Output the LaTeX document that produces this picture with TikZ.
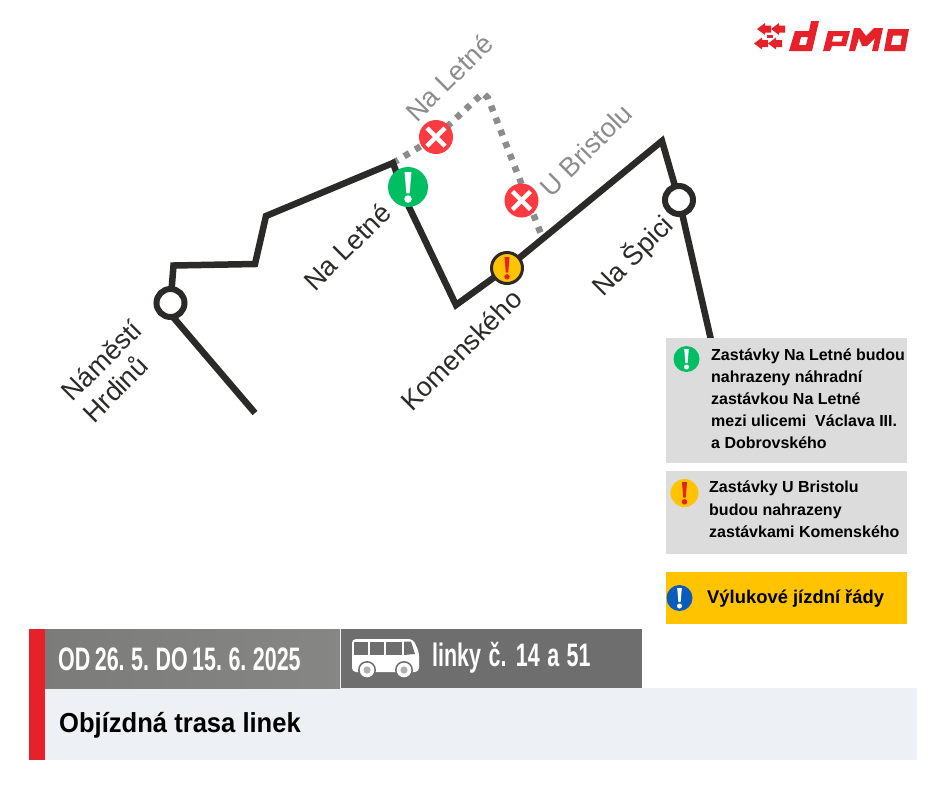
\documentclass[tikz,border=0pt]{standalone}
\usepackage{fontspec}
\setmainfont{Liberation Sans}
\newfontfamily\condfont[FakeStretch=0.66]{Liberation Sans}
\newfontfamily\titlefont[FakeStretch=0.93]{Liberation Sans}
\usetikzlibrary{positioning,calc}
\definecolor{routeblack}{HTML}{2B2A29}
\definecolor{closedred}{HTML}{FB3A42}
\definecolor{okgreen}{HTML}{00BF63}
\definecolor{warnyellow}{HTML}{FFC300}
\definecolor{infoblue}{HTML}{0A5CBC}
\definecolor{brandred}{HTML}{E62129}
\definecolor{boxgrey}{HTML}{DCDCDC}
\definecolor{bargrey}{HTML}{868684}
\definecolor{bardark}{HTML}{6E6E6E}
\definecolor{footgrey}{HTML}{EDF0F4}
\definecolor{labelgrey}{HTML}{8C8C8C}
\tikzset{
  route/.style={line width=6.5pt, routeblack},
  detour/.style={line width=6.5pt, labelgrey, dash pattern=on 6pt off 7pt},
  stoplabel/.style={font=\fontsize{27}{30}\selectfont, routeblack, rotate=45, align=left},
  oldlabel/.style={font=\fontsize{27}{27}\selectfont, labelgrey, rotate=45},
  plainstop/.style={circle, draw=routeblack, line width=6pt, fill=white, minimum size=28pt, inner sep=0pt},
  closedstop/.style={circle, fill=closedred, minimum size=34pt, inner sep=0pt},
  newstop/.style={circle, fill=okgreen, minimum size=40pt, inner sep=0pt},
  warnstop/.style={circle, draw=routeblack, line width=3pt, fill=warnyellow, minimum size=31pt, inner sep=0pt},
  keydot/.style={circle, minimum size=#1, inner sep=0pt},
  keytext/.style={anchor=north west, align=left, inner sep=0pt, font=\fontsize{16}{22.1}\selectfont\bfseries},
  headtext/.style={anchor=west, inner sep=0pt, white, font=\condfont\fontsize{32.5}{32.5}\selectfont\bfseries},
}
% exclamation mark at a node: colour, half height
\newcommand{\bang}[3]{
  \fill[#2] ($(#1)+(-0.23*#3,-#3)$) -- ($(#1)+(0.23*#3,-#3)$) -- ($(#1)+(0.11*#3,0.42*#3)$) -- ($(#1)+(-0.11*#3,0.42*#3)$) -- cycle;
  \fill[#2] ($(#1)+(0,0.8*#3)$) circle[radius=0.25*#3];
}
\newcommand{\cross}[1]{
  \draw[white, line width=4.5pt] ($(#1)+(-9,-9)$) -- ($(#1)+(9,9)$);
  \draw[white, line width=4.5pt] ($(#1)+(-9,9)$) -- ($(#1)+(9,-9)$);
}
\begin{document}
\begin{tikzpicture}[x=1pt, y=-1pt]
  \useasboundingbox[fill=white] (0,0) rectangle (940,788);

  % detour over the closed stops
  \coordinate (turnA) at (393,163);
  \coordinate (turnB) at (483,93);
  \coordinate (turnC) at (488,98);
  \coordinate (detourEnd) at (541,234);
  \coordinate (closedA) at (436,137);
  \coordinate (closedB) at (521.5,200.5);
  \draw[detour] (turnA) -- (closedA) -- (turnB) -- (turnC) -- (detourEnd);

  % route
  \coordinate (routeStart) at (255,413);
  \coordinate (bendH) at (173,317);
  \coordinate (bendA) at (173.5,265.5);
  \coordinate (bendB) at (255,264);
  \coordinate (bendC) at (266,216);
  \coordinate (bendF) at (409,207);
  \coordinate (bendD) at (456,305);
  \coordinate (bendE) at (662,141);
  \coordinate (routeEnd) at (711,340);
  \coordinate (stopA) at (170.5,303);
  \coordinate (stopB) at (408,187);
  \coordinate (stopC) at (507,268);
  \coordinate (stopD) at (679,200);
  \draw[route, line join=miter] (routeStart) -- (bendH) -- (stopA) -- (bendA) -- (bendB) -- (bendC) -- (turnA) -- (bendF) -- (bendD) -- (stopC) -- (bendE) -- (stopD) -- (routeEnd);

  \node[plainstop] (hrdinu) at (stopA) {};
  \node[plainstop] (spici) at (stopD) {};
  \node[newstop] (letne) at (stopB) {};
  \node[warnstop] (komensky) at (stopC) {};
  \node[closedstop] (oldletne) at (closedA) {};
  \node[closedstop] (bristol) at (closedB) {};
  \bang{letne}{white}{15}
  \bang{komensky}{brandred}{11}
  \cross{oldletne}
  \cross{bristol}

  \node[stoplabel] (hrdinutext) at (112,371) {Náměstí\\Hrdinů};
  \node[stoplabel] (letnetext) at (347,247) {Na Letné};
  \node[stoplabel] (komenskytext) at (461,350) {Komenského};
  \node[stoplabel] (spicitext) at (633,256) {Na Špici};
  \node[oldlabel] (oldletnetext) at (449,78) {Na Letné};
  \node[oldlabel] (bristoltext) at (586,150) {U Bristolu};

  % legend
  \fill[boxgrey] (666,338) rectangle (907,463);
  \fill[boxgrey] (666,471) rectangle (907,554);
  \fill[warnyellow] (666,572) rectangle (907,624);
  \node[keydot=26pt, fill=okgreen] (keygreen) at (686.5,359) {};
  \node[keydot=28pt, fill=warnyellow] (keyyellow) at (684.5,493) {};
  \node[keydot=26pt, fill=infoblue] (keyblue) at (679.5,598) {};
  \bang{keygreen}{white}{10}
  \bang{keyyellow}{brandred}{11}
  \bang{keyblue}{white}{10}
  \node[keytext] (keygreentext) at (711,348.5) {Zastávky Na Letné budou\\nahrazeny náhradní\\zastávkou Na Letné\\mezi ulicemi\ \ Václava III.\\a Dobrovského};
  \node[keytext] (keyyellowtext) at (709,481) {Zastávky U Bristolu\\budou nahrazeny\\zastávkami Komenského};
  \node[anchor=west, inner sep=0pt, font=\fontsize{18.4}{18.4}\selectfont\bfseries] (keybluetext) at (707,598.5) {Výlukové jízdní řády};

  % footer
  \fill[footgrey] (45,688) rectangle (917,760);
  \fill[left color=bargrey!92!black, right color=bargrey] (45,629) rectangle (340,688);
  \fill[bardark] (341,629) rectangle (642,688);
  \fill[brandred] (29,629) rectangle (45,760);
  \node[headtext] (datetext) at (58,659) {\spaceskip=4.5pt OD 26. 5. DO 15. 6. 2025};
  \node[headtext] (linestext) at (432,658) {\spaceskip=7.5pt linky č. 14 a 51};
  \node[anchor=west, inner sep=0pt, font=\titlefont\fontsize{27.5}{27.5}\selectfont\bfseries] (titletext) at (59,725) {Objízdná trasa linek};

  % bus
  \fill[white, rounded corners=4pt] (352,639) -- (413,639) -- (419,652) -- (419,672) -- (352,672) -- cycle;
  \foreach \xa/\xb in {354/368, 370/384, 386/402}
    \fill[bardark] (\xa,641.5) rectangle (\xb,655);
  \fill[bardark] (404,641.5) -- (411,641.5) -- (415,654) -- (404,655) -- cycle;
  \foreach \xa in {367,404} {
    \fill[bardark] (\xa,670) circle[radius=9];
    \fill[white] (\xa,670) circle[radius=7.3];
    \fill[bardark!55!white] (\xa,670) circle[radius=3.6];
  }
  \fill[bardark] (350,677.5) rectangle (421,684);

  % logo
  \begin{scope}[brandred]
    \foreach \ya/\xa in {29/757, 43.5/754} {
      \fill (\xa,\ya) -- (\xa+8,\ya-6) -- (\xa+8,\ya-3.5) -- (\xa+14,\ya-3.5) -- (\xa+14,\ya+3.5) -- (\xa+8,\ya+3.5) -- (\xa+8,\ya+6) -- cycle;
      \fill (\xa+14,\ya) -- (\xa+22,\ya-6) -- (\xa+22,\ya-3.5) -- (\xa+28,\ya-3.5) -- (\xa+28,\ya+3.5) -- (\xa+22,\ya+3.5) -- (\xa+22,\ya+6) -- cycle;
    }
    \fill (767,35) rectangle (773,38);
    % d
    \fill[even odd rule] (795,31) -- (809,31) -- (811,21) -- (819,21) -- (812,51) -- (789,51) -- cycle
      (801,37) -- (808,37) -- (806,45) -- (799,45) -- cycle;
    % p
    \fill[even odd rule] (828,31) -- (850,31) -- (846,46) -- (832,46) -- (830,51) -- (823,51) -- cycle
      (833.5,36) -- (843,36) -- (841.5,41.5) -- (832,41.5) -- cycle;
    % m
    \fill (854,28) -- (860,28) -- (866,36) -- (874,28) -- (883,28) -- (878,51) -- (872,51) -- (875,38) -- (867,46) -- (862,46) -- (859,38) -- (855,51) -- (849,51) -- cycle;
    % o
    \fill[even odd rule] (888,29) -- (909,29) -- (905,51) -- (884,51) -- cycle
      (893,35.5) -- (902,35.5) -- (900.5,45) -- (891,45) -- cycle;
  \end{scope}
\end{tikzpicture}
\end{document}
